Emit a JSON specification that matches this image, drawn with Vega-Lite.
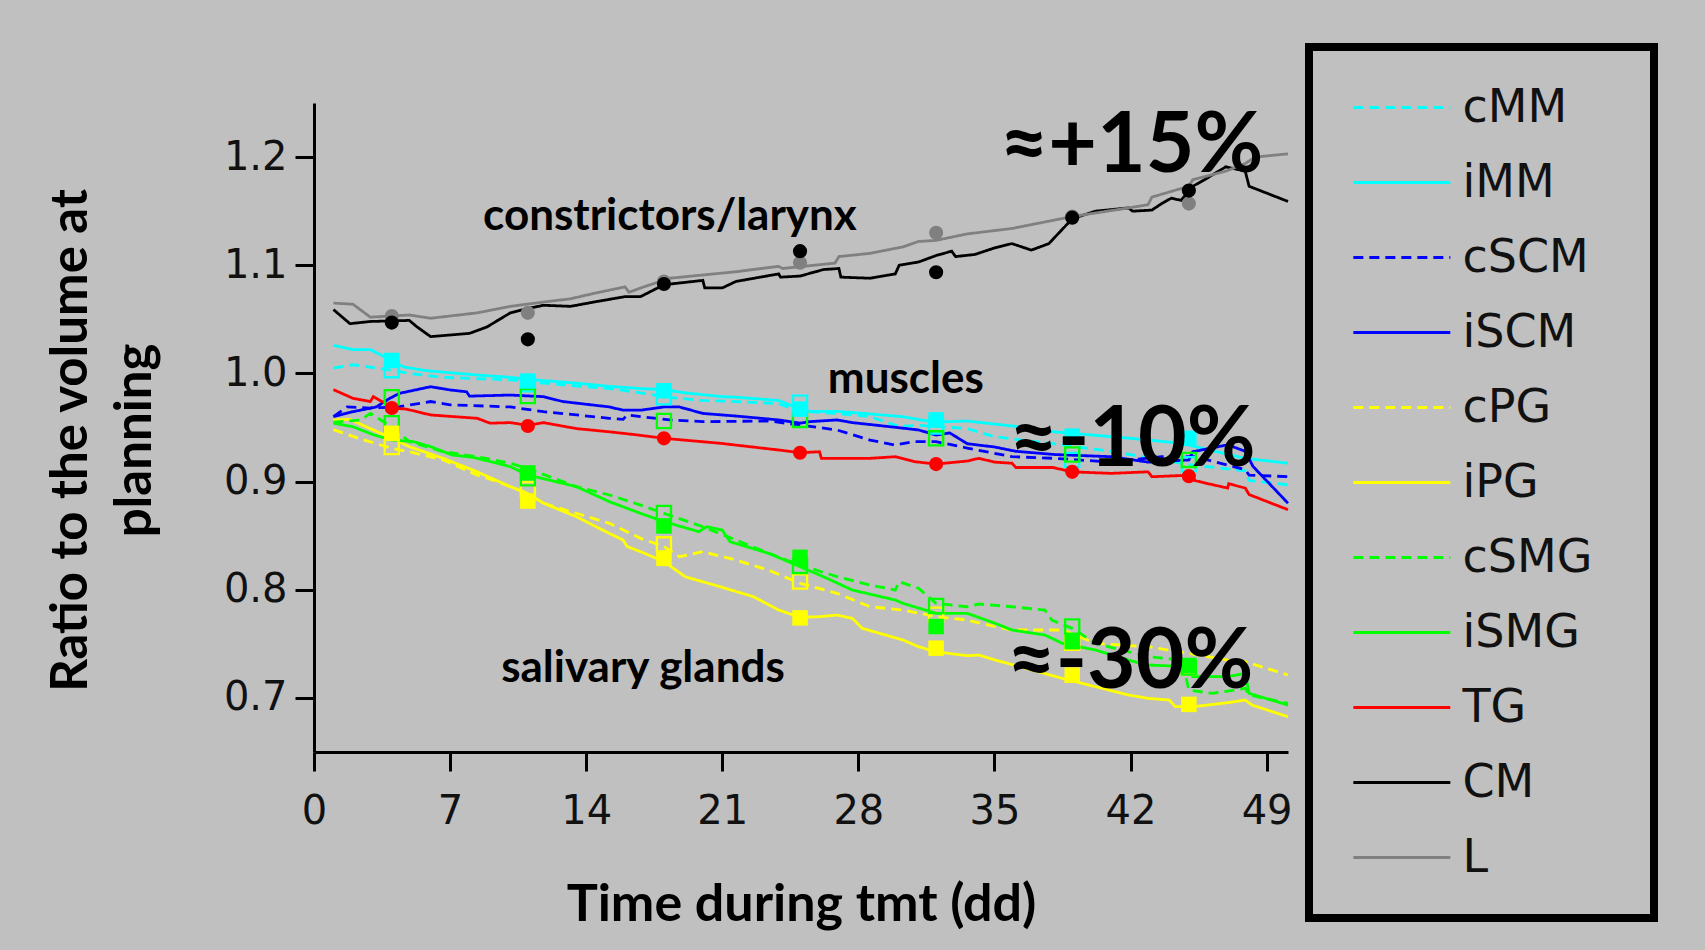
{
  "$schema": "https://vega.github.io/schema/vega-lite/v6.json",
  "width": 974,
  "height": 649,
  "autosize": "none",
  "padding": {"left": 314, "top": 103, "right": 417, "bottom": 198},
  "background": "#c0c0c0",
  "config": {
    "view": {"stroke": null},
    "font": "Lato",
    "legend": {"strokeColor": "black", "strokeWidth": 8, "padding": 37.5, "fillColor": null},
    "axis": {
      "domainColor": "black", "domainWidth": 3, "tickColor": "black", "tickWidth": 3, "tickSize": 19,
      "labelFont": "DejaVu Sans", "labelFontSize": 40, "labelColor": "#111111",
      "titleFont": "Lato", "titleFontWeight": "bold", "titleColor": "black", "grid": false
    }
  },
  "datasets": {
    "lines": [
      {"series":"CM","day":1,"ratio":1.059},{"series":"CM","day":1.85,"ratio":1.046},{"series":"CM","day":2.9,"ratio":1.048},{"series":"CM","day":4.9,"ratio":1.049},{"series":"CM","day":5.3,"ratio":1.043},{"series":"CM","day":6,"ratio":1.034},{"series":"CM","day":8,"ratio":1.037},{"series":"CM","day":8.9,"ratio":1.043},{"series":"CM","day":10.1,"ratio":1.056},{"series":"CM","day":11,"ratio":1.06},{"series":"CM","day":11.8,"ratio":1.063},{"series":"CM","day":13.2,"ratio":1.062},{"series":"CM","day":14.4,"ratio":1.066},{"series":"CM","day":16,"ratio":1.071},{"series":"CM","day":16.8,"ratio":1.071},{"series":"CM","day":18,"ratio":1.082},{"series":"CM","day":20,"ratio":1.086},{"series":"CM","day":20.1,"ratio":1.079},{"series":"CM","day":21,"ratio":1.079},{"series":"CM","day":21.7,"ratio":1.085},{"series":"CM","day":23.9,"ratio":1.092},{"series":"CM","day":24,"ratio":1.089},{"series":"CM","day":25,"ratio":1.09},{"series":"CM","day":26.2,"ratio":1.096},{"series":"CM","day":27,"ratio":1.097},{"series":"CM","day":27.1,"ratio":1.089},{"series":"CM","day":28.6,"ratio":1.088},{"series":"CM","day":29.9,"ratio":1.092},{"series":"CM","day":30.1,"ratio":1.1},{"series":"CM","day":31.1,"ratio":1.103},{"series":"CM","day":32,"ratio":1.109},{"series":"CM","day":32.8,"ratio":1.113},{"series":"CM","day":33,"ratio":1.108},{"series":"CM","day":34,"ratio":1.11},{"series":"CM","day":35,"ratio":1.116},{"series":"CM","day":35.9,"ratio":1.12},{"series":"CM","day":36.9,"ratio":1.114},{"series":"CM","day":37.8,"ratio":1.12},{"series":"CM","day":39,"ratio":1.143},{"series":"CM","day":40.2,"ratio":1.15},{"series":"CM","day":41.9,"ratio":1.153},{"series":"CM","day":42.1,"ratio":1.15},{"series":"CM","day":43.1,"ratio":1.151},{"series":"CM","day":43.6,"ratio":1.157},{"series":"CM","day":44.1,"ratio":1.162},{"series":"CM","day":44.6,"ratio":1.16},{"series":"CM","day":45.2,"ratio":1.173},{"series":"CM","day":45.8,"ratio":1.179},{"series":"CM","day":46.9,"ratio":1.191},{"series":"CM","day":47.9,"ratio":1.187},{"series":"CM","day":48.1,"ratio":1.173},{"series":"CM","day":50.1,"ratio":1.159},
      {"series":"L","day":1,"ratio":1.065},{"series":"L","day":2,"ratio":1.064},{"series":"L","day":2.9,"ratio":1.052},{"series":"L","day":4.9,"ratio":1.054},{"series":"L","day":6,"ratio":1.051},{"series":"L","day":8.4,"ratio":1.056},{"series":"L","day":10.1,"ratio":1.062},{"series":"L","day":11.8,"ratio":1.066},{"series":"L","day":13.2,"ratio":1.069},{"series":"L","day":14.4,"ratio":1.074},{"series":"L","day":16,"ratio":1.08},{"series":"L","day":16.2,"ratio":1.075},{"series":"L","day":16.8,"ratio":1.079},{"series":"L","day":18.3,"ratio":1.088},{"series":"L","day":20,"ratio":1.091},{"series":"L","day":21.7,"ratio":1.094},{"series":"L","day":23.9,"ratio":1.099},{"series":"L","day":24.1,"ratio":1.097},{"series":"L","day":26.8,"ratio":1.102},{"series":"L","day":27,"ratio":1.108},{"series":"L","day":28.6,"ratio":1.111},{"series":"L","day":30.3,"ratio":1.117},{"series":"L","day":31.1,"ratio":1.122},{"series":"L","day":32,"ratio":1.123},{"series":"L","day":33.6,"ratio":1.129},{"series":"L","day":35.9,"ratio":1.134},{"series":"L","day":39,"ratio":1.145},{"series":"L","day":41.9,"ratio":1.153},{"series":"L","day":42.9,"ratio":1.156},{"series":"L","day":43.1,"ratio":1.163},{"series":"L","day":45,"ratio":1.173},{"series":"L","day":45.2,"ratio":1.179},{"series":"L","day":46.9,"ratio":1.187},{"series":"L","day":47.9,"ratio":1.194},{"series":"L","day":48.4,"ratio":1.2},{"series":"L","day":50.1,"ratio":1.203},
      {"series":"iMM","day":1,"ratio":1.026},{"series":"iMM","day":2,"ratio":1.022},{"series":"iMM","day":2.9,"ratio":1.022},{"series":"iMM","day":4,"ratio":1.012},{"series":"iMM","day":4.6,"ratio":1.006},{"series":"iMM","day":5.8,"ratio":1.0025},{"series":"iMM","day":8.4,"ratio":0.9985},{"series":"iMM","day":10.1,"ratio":0.9964},{"series":"iMM","day":11,"ratio":0.9945},{"series":"iMM","day":13.5,"ratio":0.991},{"series":"iMM","day":15.2,"ratio":0.988},{"series":"iMM","day":16.8,"ratio":0.986},{"series":"iMM","day":18,"ratio":0.985},{"series":"iMM","day":19.1,"ratio":0.982},{"series":"iMM","day":21,"ratio":0.9785},{"series":"iMM","day":21.7,"ratio":0.978},{"series":"iMM","day":23.9,"ratio":0.975},{"series":"iMM","day":25,"ratio":0.967},{"series":"iMM","day":25.5,"ratio":0.965},{"series":"iMM","day":26.9,"ratio":0.965},{"series":"iMM","day":28.6,"ratio":0.9625},{"series":"iMM","day":30.3,"ratio":0.96},{"series":"iMM","day":31.2,"ratio":0.957},{"series":"iMM","day":32,"ratio":0.955},{"series":"iMM","day":33.6,"ratio":0.956},{"series":"iMM","day":36.1,"ratio":0.951},{"series":"iMM","day":38.1,"ratio":0.946},{"series":"iMM","day":42,"ratio":0.94},{"series":"iMM","day":44.6,"ratio":0.9354},{"series":"iMM","day":47.9,"ratio":0.9215},{"series":"iMM","day":50.1,"ratio":0.917},
      {"series":"cMM","day":1,"ratio":1.005},{"series":"cMM","day":2,"ratio":1.008},{"series":"cMM","day":4,"ratio":1.003},{"series":"cMM","day":4.9,"ratio":1.0},{"series":"cMM","day":6.6,"ratio":0.9964},{"series":"cMM","day":10.1,"ratio":0.994},{"series":"cMM","day":11.8,"ratio":0.991},{"series":"cMM","day":15.2,"ratio":0.986},{"series":"cMM","day":16.8,"ratio":0.982},{"series":"cMM","day":18,"ratio":0.9785},{"series":"cMM","day":19.9,"ratio":0.975},{"series":"cMM","day":21.7,"ratio":0.974},{"series":"cMM","day":23.9,"ratio":0.972},{"series":"cMM","day":25,"ratio":0.965},{"series":"cMM","day":26.9,"ratio":0.963},{"series":"cMM","day":28.6,"ratio":0.96},{"series":"cMM","day":30.1,"ratio":0.951},{"series":"cMM","day":31.1,"ratio":0.952},{"series":"cMM","day":32,"ratio":0.951},{"series":"cMM","day":33.6,"ratio":0.949},{"series":"cMM","day":35,"ratio":0.9415},{"series":"cMM","day":38,"ratio":0.935},{"series":"cMM","day":41,"ratio":0.928},{"series":"cMM","day":43.6,"ratio":0.92},{"series":"cMM","day":45.3,"ratio":0.915},{"series":"cMM","day":47.9,"ratio":0.91},{"series":"cMM","day":48.1,"ratio":0.901},{"series":"cMM","day":50.1,"ratio":0.897},
      {"series":"iSCM","day":1,"ratio":0.96},{"series":"iSCM","day":2,"ratio":0.9646},{"series":"iSCM","day":3.2,"ratio":0.969},{"series":"iSCM","day":3.9,"ratio":0.977},{"series":"iSCM","day":4.4,"ratio":0.9816},{"series":"iSCM","day":6,"ratio":0.9877},{"series":"iSCM","day":7,"ratio":0.9847},{"series":"iSCM","day":7.85,"ratio":0.983},{"series":"iSCM","day":8,"ratio":0.979},{"series":"iSCM","day":10.1,"ratio":0.98},{"series":"iSCM","day":11.8,"ratio":0.9785},{"series":"iSCM","day":12.8,"ratio":0.974},{"series":"iSCM","day":15.2,"ratio":0.969},{"series":"iSCM","day":15.9,"ratio":0.966},{"series":"iSCM","day":16.8,"ratio":0.966},{"series":"iSCM","day":18,"ratio":0.969},{"series":"iSCM","day":18.8,"ratio":0.969},{"series":"iSCM","day":20,"ratio":0.963},{"series":"iSCM","day":21.7,"ratio":0.9606},{"series":"iSCM","day":23.9,"ratio":0.957},{"series":"iSCM","day":25,"ratio":0.954},{"series":"iSCM","day":25.5,"ratio":0.9554},{"series":"iSCM","day":26.9,"ratio":0.957},{"series":"iSCM","day":27.7,"ratio":0.9545},{"series":"iSCM","day":30,"ratio":0.95},{"series":"iSCM","day":31.1,"ratio":0.9477},{"series":"iSCM","day":32,"ratio":0.943},{"series":"iSCM","day":32.7,"ratio":0.945},{"series":"iSCM","day":33.6,"ratio":0.935},{"series":"iSCM","day":35,"ratio":0.932},{"series":"iSCM","day":36.1,"ratio":0.928},{"series":"iSCM","day":38.1,"ratio":0.925},{"series":"iSCM","day":41,"ratio":0.923},{"series":"iSCM","day":42.9,"ratio":0.918},{"series":"iSCM","day":45,"ratio":0.92},{"series":"iSCM","day":45.2,"ratio":0.9276},{"series":"iSCM","day":47,"ratio":0.934},{"series":"iSCM","day":47.9,"ratio":0.928},{"series":"iSCM","day":48.3,"ratio":0.914},{"series":"iSCM","day":50.1,"ratio":0.88},
      {"series":"cSCM","day":1,"ratio":0.96},{"series":"cSCM","day":1.7,"ratio":0.969},{"series":"cSCM","day":2.9,"ratio":0.968},{"series":"cSCM","day":4.3,"ratio":0.969},{"series":"cSCM","day":6,"ratio":0.974},{"series":"cSCM","day":7,"ratio":0.971},{"series":"cSCM","day":10.1,"ratio":0.969},{"series":"cSCM","day":11.8,"ratio":0.9646},{"series":"cSCM","day":13.5,"ratio":0.9616},{"series":"cSCM","day":15.2,"ratio":0.9585},{"series":"cSCM","day":15.9,"ratio":0.9575},{"series":"cSCM","day":16.1,"ratio":0.9616},{"series":"cSCM","day":16.8,"ratio":0.96},{"series":"cSCM","day":18.3,"ratio":0.957},{"series":"cSCM","day":20,"ratio":0.9554},{"series":"cSCM","day":23.4,"ratio":0.956},{"series":"cSCM","day":25,"ratio":0.9523},{"series":"cSCM","day":26.9,"ratio":0.9477},{"series":"cSCM","day":28.6,"ratio":0.9384},{"series":"cSCM","day":29.9,"ratio":0.9338},{"series":"cSCM","day":30.9,"ratio":0.937},{"series":"cSCM","day":32,"ratio":0.9369},{"series":"cSCM","day":33.6,"ratio":0.931},{"series":"cSCM","day":35.9,"ratio":0.923},{"series":"cSCM","day":38.1,"ratio":0.9215},{"series":"cSCM","day":41,"ratio":0.918},{"series":"cSCM","day":43.6,"ratio":0.923},{"series":"cSCM","day":45.3,"ratio":0.923},{"series":"cSCM","day":47.9,"ratio":0.911},{"series":"cSCM","day":48.1,"ratio":0.906},{"series":"cSCM","day":50.1,"ratio":0.9045},
      {"series":"TG","day":1,"ratio":0.985},{"series":"TG","day":2,"ratio":0.977},{"series":"TG","day":2.9,"ratio":0.974},{"series":"TG","day":3.05,"ratio":0.9785},{"series":"TG","day":3.7,"ratio":0.972},{"series":"TG","day":4,"ratio":0.968},{"series":"TG","day":4.75,"ratio":0.967},{"series":"TG","day":6,"ratio":0.9616},{"series":"TG","day":8.4,"ratio":0.9585},{"series":"TG","day":9.05,"ratio":0.954},{"series":"TG","day":10.1,"ratio":0.9545},{"series":"TG","day":11,"ratio":0.952},{"series":"TG","day":11.8,"ratio":0.9545},{"series":"TG","day":13.5,"ratio":0.949},{"series":"TG","day":15.2,"ratio":0.946},{"series":"TG","day":16.7,"ratio":0.943},{"series":"TG","day":18,"ratio":0.94},{"series":"TG","day":20.9,"ratio":0.9354},{"series":"TG","day":23.9,"ratio":0.9292},{"series":"TG","day":25,"ratio":0.9267},{"series":"TG","day":26,"ratio":0.9276},{"series":"TG","day":26.1,"ratio":0.9215},{"series":"TG","day":28.6,"ratio":0.9215},{"series":"TG","day":29.9,"ratio":0.923},{"series":"TG","day":30.9,"ratio":0.9184},{"series":"TG","day":32,"ratio":0.9162},{"series":"TG","day":33.6,"ratio":0.919},{"series":"TG","day":34.2,"ratio":0.9215},{"series":"TG","day":35,"ratio":0.918},{"series":"TG","day":35.9,"ratio":0.917},{"series":"TG","day":36.1,"ratio":0.913},{"series":"TG","day":38,"ratio":0.913},{"series":"TG","day":39,"ratio":0.909},{"series":"TG","day":41,"ratio":0.9076},{"series":"TG","day":42.9,"ratio":0.909},{"series":"TG","day":43.1,"ratio":0.9045},{"series":"TG","day":45.2,"ratio":0.906},{"series":"TG","day":45.3,"ratio":0.901},{"series":"TG","day":46,"ratio":0.898},{"series":"TG","day":47,"ratio":0.894},{"series":"TG","day":47.05,"ratio":0.898},{"series":"TG","day":47.9,"ratio":0.894},{"series":"TG","day":48.1,"ratio":0.888},{"series":"TG","day":50.1,"ratio":0.874},
      {"series":"iPG","day":1,"ratio":0.957},{"series":"iPG","day":1.85,"ratio":0.9575},{"series":"iPG","day":4,"ratio":0.94},{"series":"iPG","day":4.9,"ratio":0.9323},{"series":"iPG","day":6.65,"ratio":0.9215},{"series":"iPG","day":8.4,"ratio":0.909},{"series":"iPG","day":10.1,"ratio":0.8953},{"series":"iPG","day":11,"ratio":0.889},{"series":"iPG","day":11.8,"ratio":0.88},{"series":"iPG","day":13.5,"ratio":0.8675},{"series":"iPG","day":15.2,"ratio":0.852},{"series":"iPG","day":15.9,"ratio":0.846},{"series":"iPG","day":16.1,"ratio":0.84},{"series":"iPG","day":16.8,"ratio":0.8352},{"series":"iPG","day":18,"ratio":0.826},{"series":"iPG","day":19.1,"ratio":0.812},{"series":"iPG","day":20.85,"ratio":0.803},{"series":"iPG","day":22.6,"ratio":0.7936},{"series":"iPG","day":23.9,"ratio":0.7813},{"series":"iPG","day":25,"ratio":0.7745},{"series":"iPG","day":26,"ratio":0.7751},{"series":"iPG","day":26.9,"ratio":0.7766},{"series":"iPG","day":27.7,"ratio":0.7735},{"series":"iPG","day":28.2,"ratio":0.7643},{"series":"iPG","day":30.3,"ratio":0.7535},{"series":"iPG","day":31.1,"ratio":0.7473},{"series":"iPG","day":32,"ratio":0.7427},{"series":"iPG","day":33.6,"ratio":0.739},{"series":"iPG","day":34.2,"ratio":0.7396},{"series":"iPG","day":35.05,"ratio":0.735},{"series":"iPG","day":38.5,"ratio":0.718},{"series":"iPG","day":40.2,"ratio":0.7104},{"series":"iPG","day":41.9,"ratio":0.7027},{"series":"iPG","day":42.9,"ratio":0.6996},{"series":"iPG","day":44,"ratio":0.698},{"series":"iPG","day":44.3,"ratio":0.692},{"series":"iPG","day":45.3,"ratio":0.692},{"series":"iPG","day":47,"ratio":0.6956},{"series":"iPG","day":47.9,"ratio":0.698},{"series":"iPG","day":48.25,"ratio":0.6934},{"series":"iPG","day":50.1,"ratio":0.6826},
      {"series":"cPG","day":1,"ratio":0.948},{"series":"cPG","day":2.3,"ratio":0.94},{"series":"cPG","day":4,"ratio":0.9307},{"series":"cPG","day":4.9,"ratio":0.9276},{"series":"cPG","day":6.65,"ratio":0.92},{"series":"cPG","day":8.4,"ratio":0.906},{"series":"cPG","day":9.2,"ratio":0.9014},{"series":"cPG","day":11,"ratio":0.889},{"series":"cPG","day":11.8,"ratio":0.88},{"series":"cPG","day":13.5,"ratio":0.8706},{"series":"cPG","day":15.2,"ratio":0.8614},{"series":"cPG","day":16.8,"ratio":0.8475},{"series":"cPG","day":18,"ratio":0.84},{"series":"cPG","day":18.8,"ratio":0.8306},{"series":"cPG","day":20,"ratio":0.8352},{"series":"cPG","day":21.7,"ratio":0.8275},{"series":"cPG","day":23.4,"ratio":0.818},{"series":"cPG","day":25,"ratio":0.806},{"series":"cPG","day":26.9,"ratio":0.7967},{"series":"cPG","day":28.6,"ratio":0.7843},{"series":"cPG","day":30.3,"ratio":0.7813},{"series":"cPG","day":32,"ratio":0.7751},{"series":"cPG","day":33.6,"ratio":0.772},{"series":"cPG","day":35.05,"ratio":0.7658},{"series":"cPG","day":35.9,"ratio":0.7628},{"series":"cPG","day":38.5,"ratio":0.7628},{"series":"cPG","day":40.2,"ratio":0.7504},{"series":"cPG","day":42.9,"ratio":0.7473},{"series":"cPG","day":45,"ratio":0.7412},{"series":"cPG","day":47,"ratio":0.735},{"series":"cPG","day":47.9,"ratio":0.7335},{"series":"cPG","day":50.1,"ratio":0.7212},
      {"series":"iSMG","day":1,"ratio":0.954},{"series":"iSMG","day":2,"ratio":0.9507},{"series":"iSMG","day":3.1,"ratio":0.943},{"series":"iSMG","day":4,"ratio":0.9384},{"series":"iSMG","day":5.1,"ratio":0.937},{"series":"iSMG","day":6,"ratio":0.9323},{"series":"iSMG","day":7.1,"ratio":0.9246},{"series":"iSMG","day":8.2,"ratio":0.9224},{"series":"iSMG","day":10.1,"ratio":0.9138},{"series":"iSMG","day":11,"ratio":0.906},{"series":"iSMG","day":12.1,"ratio":0.9014},{"series":"iSMG","day":13.5,"ratio":0.8953},{"series":"iSMG","day":15.2,"ratio":0.8814},{"series":"iSMG","day":16.8,"ratio":0.8706},{"series":"iSMG","day":18,"ratio":0.863},{"series":"iSMG","day":19.8,"ratio":0.8537},{"series":"iSMG","day":20.2,"ratio":0.8583},{"series":"iSMG","day":21,"ratio":0.8552},{"series":"iSMG","day":21.4,"ratio":0.8444},{"series":"iSMG","day":23.4,"ratio":0.8336},{"series":"iSMG","day":25,"ratio":0.8213},{"series":"iSMG","day":26.2,"ratio":0.8121},{"series":"iSMG","day":27.7,"ratio":0.7997},{"series":"iSMG","day":29.9,"ratio":0.7905},{"series":"iSMG","day":30.3,"ratio":0.7874},{"series":"iSMG","day":32,"ratio":0.7782},{"series":"iSMG","day":33.6,"ratio":0.7782},{"series":"iSMG","day":35.05,"ratio":0.7689},{"series":"iSMG","day":35.9,"ratio":0.7628},{"series":"iSMG","day":37.6,"ratio":0.7581},{"series":"iSMG","day":38.5,"ratio":0.7504},{"series":"iSMG","day":40.2,"ratio":0.7443},{"series":"iSMG","day":41.9,"ratio":0.735},{"series":"iSMG","day":42.9,"ratio":0.7304},{"series":"iSMG","day":45,"ratio":0.7289},{"series":"iSMG","day":45.2,"ratio":0.7196},{"series":"iSMG","day":47,"ratio":0.7196},{"series":"iSMG","day":47.9,"ratio":0.7227},{"series":"iSMG","day":48.1,"ratio":0.7042},{"series":"iSMG","day":50.1,"ratio":0.6934},
      {"series":"cSMG","day":1,"ratio":0.955},{"series":"cSMG","day":2.4,"ratio":0.957},{"series":"cSMG","day":2.9,"ratio":0.963},{"series":"cSMG","day":4,"ratio":0.9507},{"series":"cSMG","day":4.9,"ratio":0.9369},{"series":"cSMG","day":6.65,"ratio":0.9276},{"series":"cSMG","day":8.4,"ratio":0.923},{"series":"cSMG","day":10.1,"ratio":0.9169},{"series":"cSMG","day":11,"ratio":0.912},{"series":"cSMG","day":13.5,"ratio":0.8953},{"series":"cSMG","day":15.2,"ratio":0.8876},{"series":"cSMG","day":16.8,"ratio":0.8783},{"series":"cSMG","day":18,"ratio":0.8706},{"series":"cSMG","day":20,"ratio":0.8583},{"series":"cSMG","day":21.7,"ratio":0.846},{"series":"cSMG","day":23.4,"ratio":0.8336},{"series":"cSMG","day":25,"ratio":0.8229},{"series":"cSMG","day":26.9,"ratio":0.8121},{"series":"cSMG","day":28.6,"ratio":0.8044},{"series":"cSMG","day":29.9,"ratio":0.7997},{"series":"cSMG","day":30.1,"ratio":0.8075},{"series":"cSMG","day":31.1,"ratio":0.8013},{"series":"cSMG","day":32,"ratio":0.7874},{"series":"cSMG","day":33.6,"ratio":0.7843},{"series":"cSMG","day":34.2,"ratio":0.7868},{"series":"cSMG","day":35.9,"ratio":0.7843},{"series":"cSMG","day":37.6,"ratio":0.7812},{"series":"cSMG","day":37.95,"ratio":0.772},{"series":"cSMG","day":39,"ratio":0.7643},{"series":"cSMG","day":40.2,"ratio":0.7504},{"series":"cSMG","day":42.9,"ratio":0.7381},{"series":"cSMG","day":44.65,"ratio":0.735},{"series":"cSMG","day":45,"ratio":0.7073},{"series":"cSMG","day":46.2,"ratio":0.7042},{"series":"cSMG","day":47.9,"ratio":0.7088},{"series":"cSMG","day":48.1,"ratio":0.7027},{"series":"cSMG","day":50.1,"ratio":0.695}
    ],
    "markers": [
      {"series":"L","day":4,"ratio":1.053},{"series":"L","day":11,"ratio":1.056},{"series":"L","day":18,"ratio":1.085},{"series":"L","day":25,"ratio":1.1024},{"series":"L","day":32,"ratio":1.13},{"series":"L","day":39,"ratio":1.145},{"series":"L","day":45,"ratio":1.157},
      {"series":"CM","day":4,"ratio":1.047},{"series":"CM","day":11,"ratio":1.0315},{"series":"CM","day":18,"ratio":1.0827},{"series":"CM","day":25,"ratio":1.113},{"series":"CM","day":32,"ratio":1.0935},{"series":"CM","day":39,"ratio":1.144},{"series":"CM","day":45,"ratio":1.169},
      {"series":"TG","day":4,"ratio":0.968},{"series":"TG","day":11,"ratio":0.9514},{"series":"TG","day":18,"ratio":0.94},{"series":"TG","day":25,"ratio":0.9267},{"series":"TG","day":32,"ratio":0.9162},{"series":"TG","day":39,"ratio":0.909},{"series":"TG","day":45,"ratio":0.905},
      {"series":"iMM","day":4,"ratio":1.012},{"series":"iMM","day":11,"ratio":0.993},{"series":"iMM","day":18,"ratio":0.984},{"series":"iMM","day":25,"ratio":0.967},{"series":"iMM","day":32,"ratio":0.957},{"series":"iMM","day":39,"ratio":0.942},{"series":"iMM","day":45,"ratio":0.94},
      {"series":"iPG","day":4,"ratio":0.9446},{"series":"iPG","day":11,"ratio":0.882},{"series":"iPG","day":18,"ratio":0.829},{"series":"iPG","day":25,"ratio":0.774},{"series":"iPG","day":32,"ratio":0.746},{"series":"iPG","day":39,"ratio":0.721},{"series":"iPG","day":45,"ratio":0.694},
      {"series":"iSMG","day":11,"ratio":0.908},{"series":"iSMG","day":18,"ratio":0.859},{"series":"iSMG","day":25,"ratio":0.83},{"series":"iSMG","day":32,"ratio":0.766},{"series":"iSMG","day":39,"ratio":0.752},{"series":"iSMG","day":45,"ratio":0.73},
      {"series":"cMM","day":4,"ratio":1.003},{"series":"cMM","day":11,"ratio":0.99},{"series":"cMM","day":18,"ratio":0.978},{"series":"cMM","day":25,"ratio":0.973},{"series":"cMM","day":32,"ratio":0.951},{"series":"cMM","day":39,"ratio":0.92},{"series":"cMM","day":45,"ratio":0.916},
      {"series":"cPG","day":4,"ratio":0.932},{"series":"cPG","day":11,"ratio":0.893},{"series":"cPG","day":18,"ratio":0.842},{"series":"cPG","day":25,"ratio":0.8076},{"series":"cPG","day":32,"ratio":0.777},{"series":"cPG","day":39,"ratio":0.751},{"series":"cPG","day":45,"ratio":0.728},
      {"series":"cSMG","day":4,"ratio":0.954},{"series":"cSMG","day":11,"ratio":0.903},{"series":"cSMG","day":18,"ratio":0.871},{"series":"cSMG","day":25,"ratio":0.822},{"series":"cSMG","day":32,"ratio":0.785},{"series":"cSMG","day":39,"ratio":0.766},{"series":"cSMG","day":45,"ratio":0.728},
      {"series":"SCM","day":4,"ratio":0.978},{"series":"SCM","day":11,"ratio":0.979},{"series":"SCM","day":18,"ratio":0.956},{"series":"SCM","day":25,"ratio":0.957},{"series":"SCM","day":32,"ratio":0.94},{"series":"SCM","day":39,"ratio":0.925},{"series":"SCM","day":45,"ratio":0.92}
    ],
    "notes": [
      {"label":"constrictors/larynx","kind":"group","day":18.31,"ratio":1.133},
      {"label":"muscles","kind":"group","day":30.44,"ratio":0.982},
      {"label":"salivary glands","kind":"group","day":16.92,"ratio":0.715},
      {"label":"≈+15%","kind":"change","day":42.05,"ratio":1.1865},
      {"label":"≈-10%","kind":"change","day":42.1,"ratio":0.9148},
      {"label":"≈-30%","kind":"change","day":41.98,"ratio":0.7089}
    ]
  },
  "encoding": {
    "x": {"field": "day", "type": "quantitative",
      "scale": {"domain": [0, 50.1], "nice": false, "zero": false},
      "axis": {"values": [0,7,14,21,28,35,42,49], "labelPadding": 20, "labelFlush": false, "labelOverlap": false,
        "title": "Time during tmt (dd)", "titleFontSize": 52, "titleY": 168, "titleBaseline": "alphabetic"}},
    "y": {"field": "ratio", "type": "quantitative",
      "scale": {"domain": [0.65, 1.25], "nice": false, "zero": false},
      "axis": {"values": [0.7,0.8,0.9,1.0,1.1,1.2], "format": ".1f", "labelPadding": 8, "labelFlush": false,
        "title": ["Ratio to the volume at", "planning"], "titleFontSize": 51, "titleLineHeight": 64,
        "titleAngle": 270, "titleX": -228, "titleY": 337, "titleAlign": "center", "titleBaseline": "alphabetic"}}
  },
  "layer": [
    {
      "data": {"name": "lines"},
      "mark": {"type": "line", "strokeWidth": 2.8, "interpolate": "linear"},
      "encoding": {
        "color": {"field": "series", "type": "nominal",
          "scale": {"domain": ["cMM","iMM","cSCM","iSCM","cPG","iPG","cSMG","iSMG","TG","CM","L","SCM"],
            "range": ["#00ffff","#00ffff","#0000ff","#0000ff","#ffff00","#ffff00","#00ff00","#00ff00","#ff0000","#000000","#808080","#00ff00"]},
          "legend": {"values": ["cMM","iMM","cSCM","iSCM","cPG","iPG","cSMG","iSMG","TG","CM","L"],
            "orient": "none", "legendX": 995, "legendY": -56, "title": " ", "titleOrient": "right", "titleFontSize": 20, "titlePadding": 24,
            "symbolType": "M-1,0H5", "symbolSize": 1045, "symbolStrokeWidth": 2.8, "symbolOffset": 0,
            "labelFont": "DejaVu Sans", "labelFontSize": 46, "labelColor": "#111111", "labelOffset": 70, "rowPadding": 29, "labelLimit": 400}},
        "strokeDash": {"field": "series", "type": "nominal",
          "scale": {"domain": ["cMM","iMM","cSCM","iSCM","cPG","iPG","cSMG","iSMG","TG","CM","L","SCM"],
            "range": [[10,6],[1,0],[10,6],[1,0],[10,6],[1,0],[10,6],[1,0],[1,0],[1,0],[1,0],[1,0]]},
          "legend": {"values": ["cMM","iMM","cSCM","iSCM","cPG","iPG","cSMG","iSMG","TG","CM","L"],
            "orient": "none", "legendX": 995, "legendY": -56, "title": " ", "titleOrient": "right", "titleFontSize": 20, "titlePadding": 24,
            "symbolType": "M-1,0H5", "symbolSize": 1045, "symbolStrokeWidth": 2.8, "symbolOffset": 0,
            "labelFont": "DejaVu Sans", "labelFontSize": 46, "labelColor": "#111111", "labelOffset": 70, "rowPadding": 29, "labelLimit": 400}}
      }
    },
    {
      "data": {"name": "markers"},
      "transform": [{"filter": {"field": "series", "oneOf": ["cMM","cPG","cSMG","SCM"]}}],
      "mark": {"type": "point", "shape": "square", "filled": false, "strokeWidth": 2.3, "size": 200, "opacity": 1},
      "encoding": {
        "color": {"field": "series", "type": "nominal",
          "scale": {"domain": ["cMM","iMM","cSCM","iSCM","cPG","iPG","cSMG","iSMG","TG","CM","L","SCM"],
            "range": ["#00ffff","#00ffff","#0000ff","#0000ff","#ffff00","#ffff00","#00ff00","#00ff00","#ff0000","#000000","#808080","#00ff00"]},
          "legend": null}
      }
    },
    {
      "data": {"name": "markers"},
      "transform": [{"filter": {"field": "series", "oneOf": ["iMM","iPG","iSMG"]}}],
      "mark": {"type": "point", "shape": "square", "filled": true, "size": 240, "opacity": 1},
      "encoding": {
        "color": {"field": "series", "type": "nominal",
          "scale": {"domain": ["cMM","iMM","cSCM","iSCM","cPG","iPG","cSMG","iSMG","TG","CM","L","SCM"],
            "range": ["#00ffff","#00ffff","#0000ff","#0000ff","#ffff00","#ffff00","#00ff00","#00ff00","#ff0000","#000000","#808080","#00ff00"]},
          "legend": null}
      }
    },
    {
      "data": {"name": "markers"},
      "transform": [{"filter": {"field": "series", "oneOf": ["L","CM","TG"]}}],
      "mark": {"type": "point", "shape": "circle", "filled": true, "size": 200, "opacity": 1},
      "encoding": {
        "color": {"field": "series", "type": "nominal",
          "scale": {"domain": ["cMM","iMM","cSCM","iSCM","cPG","iPG","cSMG","iSMG","TG","CM","L","SCM"],
            "range": ["#00ffff","#00ffff","#0000ff","#0000ff","#ffff00","#ffff00","#00ff00","#00ff00","#ff0000","#000000","#808080","#00ff00"]},
          "legend": null}
      }
    },
    {
      "data": {"name": "notes"},
      "transform": [{"filter": "datum.kind === 'group'"}],
      "mark": {"type": "text", "font": "Lato", "fontWeight": "bold", "fontSize": 44, "align": "center", "baseline": "alphabetic", "color": "black"},
      "encoding": {"text": {"field": "label"}}
    },
    {
      "data": {"name": "notes"},
      "transform": [{"filter": "datum.kind === 'change'"}],
      "mark": {"type": "text", "font": "Lato", "fontWeight": "bold", "fontSize": 84, "align": "center", "baseline": "alphabetic", "color": "black"},
      "encoding": {"text": {"field": "label"}}
    }
  ]
}
